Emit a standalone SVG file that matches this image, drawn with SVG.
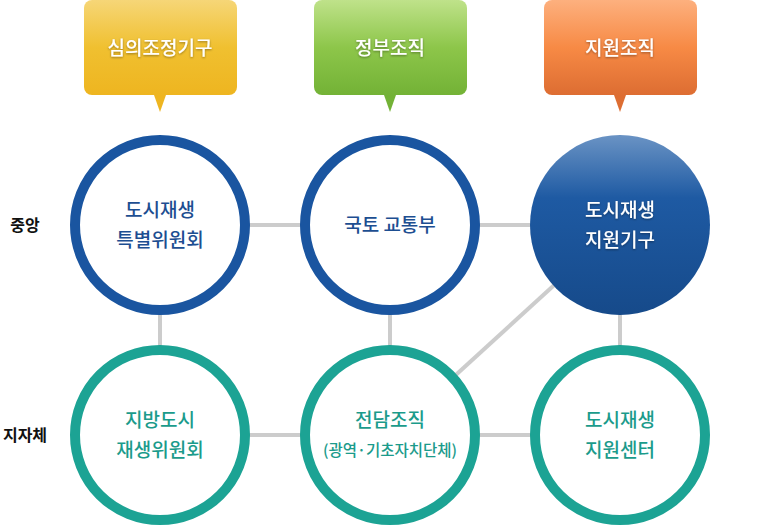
<svg xmlns="http://www.w3.org/2000/svg" width="780" height="525" viewBox="0 0 780 525">
<defs>
<linearGradient id="gY" x1="0" y1="0" x2="0" y2="1"><stop offset="0" stop-color="#f6d677"/><stop offset="0.5" stop-color="#f0c030"/><stop offset="1" stop-color="#eeb520"/></linearGradient>
<linearGradient id="gG" x1="0" y1="0" x2="0" y2="1"><stop offset="0" stop-color="#bfe28a"/><stop offset="0.5" stop-color="#8dc64a"/><stop offset="1" stop-color="#73b236"/></linearGradient>
<linearGradient id="gO" x1="0" y1="0" x2="0" y2="1"><stop offset="0" stop-color="#fdb07e"/><stop offset="0.5" stop-color="#f78a45"/><stop offset="1" stop-color="#dd6d32"/></linearGradient>
<linearGradient id="gB" x1="0" y1="0" x2="0" y2="1"><stop offset="0" stop-color="#6a93c4"/><stop offset="0.35" stop-color="#1e5aa3"/><stop offset="1" stop-color="#164a8a"/></linearGradient>
<filter id="sh" x="-10%" y="-20%" width="120%" height="140%"><feDropShadow dx="0" dy="1" stdDeviation="0.8" flood-color="#000" flood-opacity="0.4"/></filter>
</defs>
<style>
text{font-family:"Noto Sans CJK KR","Noto Sans",sans-serif;text-anchor:middle}
.ct{fill:#fff;font-size:19px;font-weight:500;filter:url(#sh)}
.blue{fill:#fff;stroke:#1a55a0;stroke-width:10}
.teal{fill:#fff;stroke:#1ca394;stroke-width:10}
.tb{fill:#1d4e91;font-size:19px;font-weight:500}
.tt{fill:#1b9b8b;font-size:19px;font-weight:500}
.ts{fill:#1b9b8b;font-size:15.5px;font-weight:500}
.side{fill:#111;font-size:16px;font-weight:bold}
.con line{stroke:#cccccc;stroke-width:4}
</style>
<g id="callout1"><rect x="84" y="0" width="153" height="95" rx="8" fill="url(#gY)"/><polygon points="154,95 166,95 160,112" fill="#eeb520"/><text class="ct" x="160" y="55">심의조정기구</text></g>
<g id="callout2"><rect x="314" y="0" width="153" height="95" rx="8" fill="url(#gG)"/><polygon points="384,95 396,95 390,112" fill="#73b236"/><text class="ct" x="390" y="55">정부조직</text></g>
<g id="callout3"><rect x="544" y="0" width="153" height="95" rx="8" fill="url(#gO)"/><polygon points="614,95 626,95 620,112" fill="#dd6d32"/><text class="ct" x="620" y="55">지원조직</text></g>
<g id="label-central"><text class="side" x="25" y="231">중앙</text></g>
<g id="label-local"><text class="side" x="25" y="441">지자체</text></g>
<g class="con" id="connectors">
<line x1="160" y1="225" x2="390" y2="225"/>
<line x1="390" y1="225" x2="620" y2="225"/>
<line x1="160" y1="435" x2="390" y2="435"/>
<line x1="390" y1="435" x2="620" y2="435"/>
<line x1="160" y1="225" x2="160" y2="435"/>
<line x1="390" y1="225" x2="390" y2="435"/>
<line x1="620" y1="225" x2="620" y2="435"/>
<line x1="620" y1="225" x2="390" y2="435"/>
</g>
<g id="n1"><circle class="blue" cx="160" cy="225" r="85"/><text class="tb" x="160" y="217">도시재생</text><text class="tb" x="160" y="247">특별위원회</text></g>
<g id="n2"><circle class="blue" cx="390" cy="225" r="85"/><text class="tb" x="390" y="232">국토 교통부</text></g>
<g id="n3"><circle cx="620" cy="225" r="90" fill="url(#gB)"/><text class="ct" x="620" y="217">도시재생</text><text class="ct" x="620" y="247">지원기구</text></g>
<g id="n4"><circle class="teal" cx="160" cy="435" r="85"/><text class="tt" x="160" y="427">지방도시</text><text class="tt" x="160" y="457">재생위원회</text></g>
<g id="n5"><circle class="teal" cx="390" cy="435" r="85"/><text class="tt" x="390" y="427">전담조직</text><text class="ts" x="390" y="456">(광역·기초자치단체)</text></g>
<g id="n6"><circle class="teal" cx="620" cy="435" r="85"/><text class="tt" x="620" y="427">도시재생</text><text class="tt" x="620" y="457">지원센터</text></g>
</svg>
